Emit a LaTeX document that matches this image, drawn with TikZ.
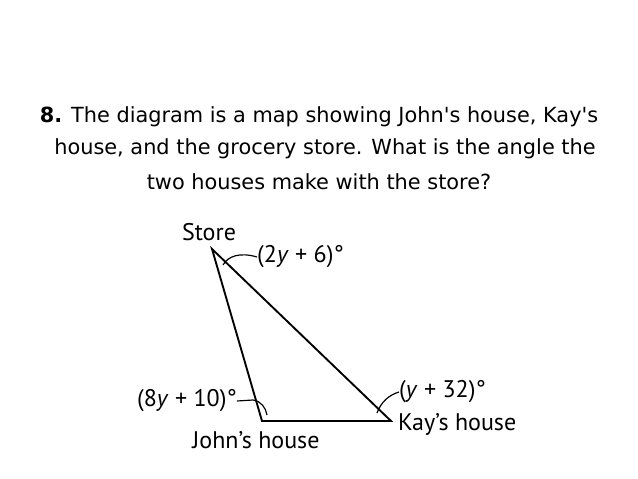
\documentclass[tikz,border=0pt]{standalone}
\usepackage{fontspec}
\setmainfont{DejaVu Sans}[Ligatures=TeXOff]
\newfontfamily\mapfont{PT Sans}

\begin{document}
\begin{tikzpicture}[x=0.03cm,y=-0.03cm,
  main text/.style={font=\fontsize{17.8}{27}\selectfont,inner sep=0pt},
  map label/.style={font=\mapfont\fontsize{20.5}{22}\selectfont,inner sep=0pt},
  side/.style={line width=1.6pt},
  angle mark/.style={line width=1pt}]
  \useasboundingbox (0,0) rectangle (638,479);

  % question
  \node[main text] (q1) at (319,117) {\textbf{8.} The diagram is a map showing John's house, Kay's};
  \node[main text] (q2) at (325,149) {house, and the grocery store. What is the angle the};
  \node[main text] (q3) at (319,182) {two houses make with the store?};

  % triangle
  \coordinate (store) at (212,249);
  \coordinate (john) at (262,421);
  \coordinate (kay) at (391,421);
  \draw[side,line join=miter] (store) -- (john) -- (kay) -- cycle;

  % labels
  \node[map label] (ls) at (209,232) {Store};
  \node[map label,anchor=west] (la) at (257,257) {(2\textit{y} + 6)°};
  \node[map label,anchor=east] (lj) at (237,401) {(8\textit{y} + 10)°};
  \node[map label] (lh) at (256,440) {John’s house};
  \node[map label,anchor=west] (lk) at (399,392) {(\textit{y} + 32)°};
  \node[map label,anchor=west] (lkh) at (398,424) {Kay’s house};

  % angle marks
  \draw[angle mark] (la.west) .. controls (240,252) and (228,256) .. (223,265);
  \draw[angle mark] (lj.east) -- (253,400) .. controls (261,401) and (266,408) .. (267,415);
  \draw[angle mark] (lk.west) .. controls (389,395) and (381,402) .. (377,413);
\end{tikzpicture}
\end{document}
